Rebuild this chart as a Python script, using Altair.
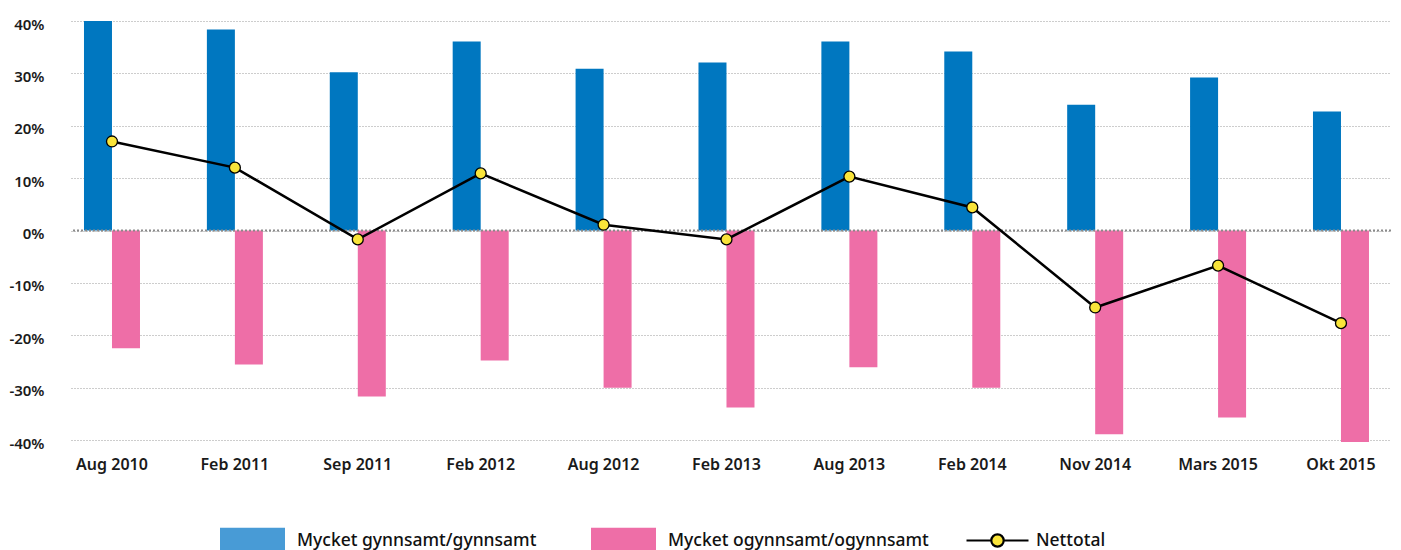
import altair as alt
import pandas as pd

periods = ["Aug 2010", "Feb 2011", "Sep 2011", "Feb 2012", "Aug 2012", "Feb 2013",
           "Aug 2013", "Feb 2014", "Nov 2014", "Mars 2015", "Okt 2015"]
gynnsamt = [40.0, 38.4, 30.2, 36.1, 30.9, 32.1, 36.1, 34.2, 24.0, 29.2, 22.7]
ogynnsamt = [-22.5, -25.6, -31.7, -24.8, -30.0, -33.8, -26.1, -30.0, -38.9, -35.7, -40.4]
nettotal = [17.0, 12.0, -1.7, 10.9, 1.1, -1.7, 10.3, 4.4, -14.7, -6.7, -17.7]
series = ["Mycket gynnsamt/gynnsamt", "Mycket ogynnsamt/ogynnsamt"]
net_label = "Nettotal"
y_ticks = [-40, -30, -20, -10, 0, 10, 20, 30, 40]

BLUE = "#0077c0"
BLUE_LEGEND = "#489bd6"
PINK = "#ee6ea7"
YELLOW = "#f9e43a"
FONT = "Noto Sans"

rows = []
for i, p in enumerate(periods):
    rows.append({"period": p, "serie": series[0], "value": gynnsamt[i]})
    rows.append({"period": p, "serie": series[1], "value": ogynnsamt[i]})
bars_df = pd.DataFrame(rows)
net_df = pd.DataFrame({"period": periods, "value": nettotal, "label": [net_label] * len(periods)})
zero_df = pd.DataFrame({"value": [0]})

x_enc = alt.X("period:N", sort=periods,
              scale=alt.Scale(paddingInner=0.5443, paddingOuter=0.1424, align=0.371),
              axis=alt.Axis(title=None, labelAngle=0, ticks=False, domain=False, grid=False,
                            labelPadding=16, labelFontSize=16, labelFontWeight=600,
                            labelFont=FONT, labelColor="#1a1a1a"))
y_enc = alt.Y("value:Q",
              scale=alt.Scale(domain=[-40, 40], nice=False, zero=True),
              axis=alt.Axis(title=None, values=y_ticks, labelExpr="datum.value + '%'",
                            ticks=False, domain=False, grid=True, gridColor="#9a9a9a",
                            gridDash=[1, 2], gridWidth=1, labelPadding=27, labelFontSize=15,
                            labelFontWeight=600, labelFont=FONT, labelColor="#1a1a1a",
                            labelOffset=3))

bars = alt.Chart(bars_df).mark_bar().encode(
    x=x_enc,
    y=y_enc,
    xOffset=alt.XOffset("serie:N", sort=series, scale=alt.Scale(paddingInner=0, paddingOuter=0)),
    color=alt.Color("serie:N", scale=alt.Scale(domain=series, range=[BLUE, PINK]), legend=None),
)

rect_path = "M-1,-0.4H1V0.4H-1Z"
bar_legend = alt.Chart(bars_df).transform_calculate(value="0").mark_bar().encode(
    x=x_enc,
    y=y_enc,
    color=alt.Color("serie:N", scale=alt.Scale(domain=series, range=[BLUE_LEGEND, PINK]),
                    legend=alt.Legend(title=None, orient="none", legendX=149, legendY=487,
                                      direction="horizontal", columns=2, symbolType=rect_path,
                                      symbolSize=4225, symbolStrokeWidth=0, symbolOpacity=1,
                                      labelFontSize=17.5, labelFont=FONT, labelFontWeight=500,
                                      labelColor="#111111", labelOffset=12, columnPadding=54,
                                      labelLimit=500, padding=0)),
)

zero_rule = alt.Chart(zero_df).mark_rule(color="#8a8a8a", strokeWidth=2, strokeDash=[2, 2]).encode(
    y=alt.Y("value:Q")
)

line_path = ("M-1,0H-0.2M0.2,0H1M0.2,0A0.2,0.2,0,1,1,-0.2,0A0.2,0.2,0,1,1,0.2,0Z")
line = alt.Chart(net_df).mark_line(strokeWidth=2.5).encode(
    x=x_enc,
    y=y_enc,
    stroke=alt.Stroke("label:N", scale=alt.Scale(domain=[net_label], range=["#000000"]),
                      legend=alt.Legend(title=None, orient="none", legendX=894, legendY=487,
                                        symbolType=line_path, symbolSize=3844,
                                        symbolStrokeWidth=2.2, symbolFillColor=YELLOW,
                                        labelFontSize=17.5, labelFont=FONT, labelFontWeight=500,
                                        labelColor="#111111", labelOffset=6, padding=0)),
)

points = alt.Chart(net_df).mark_point(filled=True, fill=YELLOW, stroke="#000000",
                                      strokeWidth=1.3, size=120, opacity=1).encode(
    x=x_enc,
    y=y_enc,
)

chart = alt.layer(bars, bar_legend, zero_rule, line, points).resolve_scale(
    color="independent"
).properties(
    width=1320, height=419,
    autosize=alt.AutoSizeParams(type="none"),
    padding={"left": 63, "top": 13, "right": 0, "bottom": 110},
).configure_view(stroke=None)

chart.save("out.html", embed_options={"renderer": "svg", "actions": False})
